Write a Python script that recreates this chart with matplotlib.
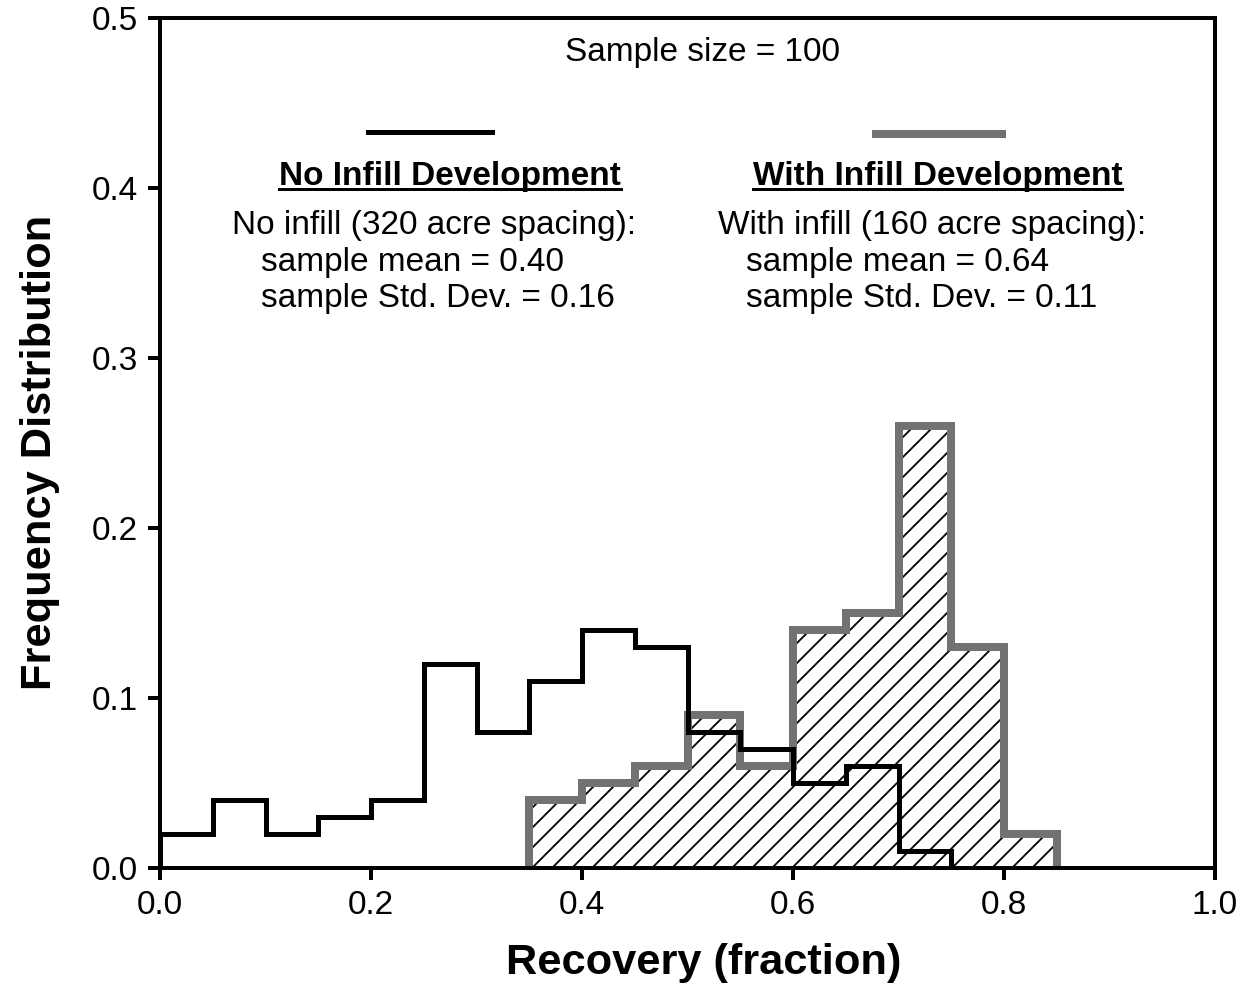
import numpy as np
import matplotlib.pyplot as plt
from matplotlib.lines import Line2D

plt.rcParams['font.family'] = ['Liberation Sans', 'DejaVu Sans']
plt.rcParams['hatch.linewidth'] = 1.1

# histogram bins (recovery fraction)
bin_edges = np.round(np.arange(0.0, 0.8001, 0.05), 2)
no_infill = [0.02, 0.04, 0.02, 0.03, 0.04, 0.12, 0.08, 0.11,
             0.14, 0.13, 0.08, 0.07, 0.05, 0.06, 0.01, 0.00]

infill_edges = np.round(np.arange(0.35, 0.8501, 0.05), 2)
with_infill = [0.04, 0.05, 0.06, 0.09, 0.06, 0.14, 0.15, 0.26, 0.13, 0.02]

xticks = [0.0, 0.2, 0.4, 0.6, 0.8, 1.0]
yticks = [0.0, 0.1, 0.2, 0.3, 0.4, 0.5]

gray = '#727272'
fs = 20

fig = plt.figure(figsize=(1245 / 120, 991 / 120), dpi=120)
ax = fig.add_axes([160 / 1245, 1 - 868 / 991, 1055 / 1245, 850 / 991])

# with infill: hatched fill, then thick grey outline
ax.stairs(with_infill, infill_edges, fill=True, facecolor='white',
          edgecolor='black', linewidth=0, hatch='//', zorder=1)
ax.stairs(with_infill, infill_edges, fill=False, edgecolor=gray,
          linewidth=4.8, baseline=0, zorder=2)

# no infill: plain black step line
ax.stairs(no_infill, bin_edges, fill=False, edgecolor='black',
          linewidth=3.0, baseline=0, zorder=3)

ax.set_xlim(0, 1)
ax.set_ylim(0, 0.5)
ax.set_xticks(xticks)
ax.set_xticklabels([f'{v:.1f}' for v in xticks])
ax.set_yticks(yticks)
ax.set_yticklabels([f'{v:.1f}' for v in yticks])
ax.tick_params(direction='out', length=7, width=2.4, labelsize=fs, pad=6)
for s in ax.spines.values():
    s.set_linewidth(2.4)

ax.set_xlabel('Recovery (fraction)', fontsize=26, fontweight='bold')
ax.set_ylabel('Frequency Distribution', fontsize=26, fontweight='bold')
ax.xaxis.set_label_coords(0.515, -0.088)
ax.yaxis.set_label_coords(-0.095, 0.489)

# annotations inside the plot
ax.text(0.514, 0.48, 'Sample size = 100', fontsize=fs, ha='center', va='center')

ax.add_line(Line2D([0.197, 0.315], [0.433, 0.433], color='black', lw=3.0))
ax.add_line(Line2D([0.679, 0.798], [0.432, 0.432], color=gray, lw=4.8))

headers = [
    ax.text(0.275, 0.407, 'No Infill Development', fontsize=fs,
            fontweight='bold', ha='center', va='center'),
    ax.text(0.737, 0.407, 'With Infill Development', fontsize=fs,
            fontweight='bold', ha='center', va='center'),
]

ax.text(0.068, 0.378, 'No infill (320 acre spacing):', fontsize=fs, va='center')
ax.text(0.0957, 0.356, 'sample mean = 0.40', fontsize=fs, va='center')
ax.text(0.0957, 0.335, 'sample Std. Dev. = 0.16', fontsize=fs, va='center')
ax.text(0.529, 0.378, 'With infill (160 acre spacing):', fontsize=fs, va='center')
ax.text(0.555, 0.356, 'sample mean = 0.64', fontsize=fs, va='center')
ax.text(0.555, 0.335, 'sample Std. Dev. = 0.11', fontsize=fs, va='center')

# underline the two headers
fig.canvas.draw()
inv = fig.transFigure.inverted()
for t in headers:
    bb = t.get_window_extent().transformed(inv)
    y = bb.y0 + 0.003
    fig.add_artist(Line2D([bb.x0, bb.x1], [y, y], color='black', lw=1.8,
                          transform=fig.transFigure))

fig.savefig('out.png', dpi=120)
